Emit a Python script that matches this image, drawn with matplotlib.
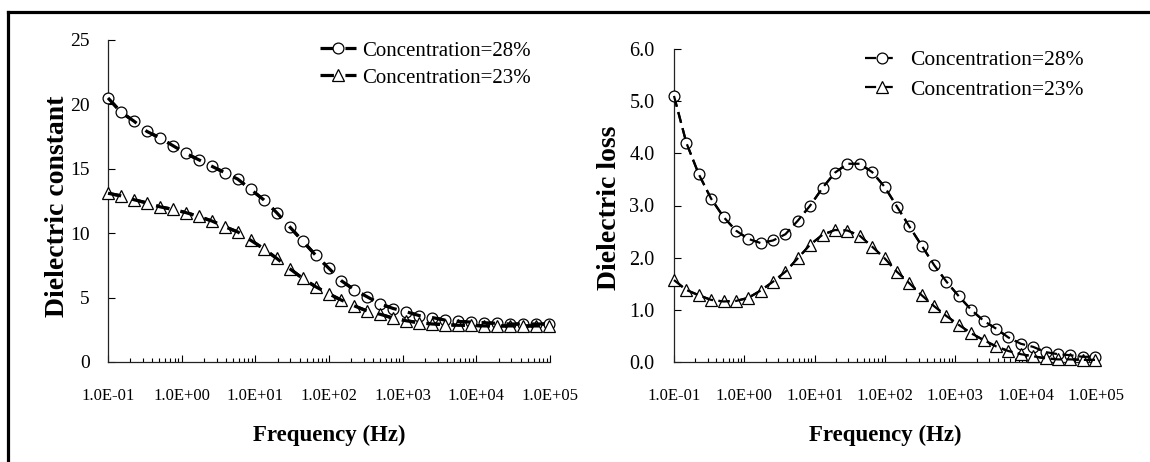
import matplotlib
matplotlib.use('Agg')
import matplotlib.pyplot as plt
from matplotlib.lines import Line2D
from matplotlib.ticker import FixedLocator, LogLocator, NullFormatter

# ---------------- data ----------------
freq = [0.1, 0.15, 0.225, 0.3375, 0.506, 0.759, 1.139, 1.709, 2.563, 3.844,
        5.767, 8.650, 12.97, 19.46, 29.19, 43.79, 65.68, 98.5, 147.8, 221.7,
        332.5, 498.8, 748.2, 1122, 1683, 2525, 3788, 5682, 8523, 12784,
        19176, 28765, 43147, 64720, 97081]

const_28 = [20.5, 19.4, 18.7, 17.9, 17.4, 16.8, 16.2, 15.7, 15.2, 14.7,
            14.2, 13.4, 12.6, 11.6, 10.5, 9.4, 8.3, 7.3, 6.3, 5.6,
            5.05, 4.5, 4.15, 3.9, 3.6, 3.45, 3.25, 3.15, 3.1, 3.05,
            3.0, 2.95, 2.95, 2.95, 2.95]
const_23 = [13.1, 12.9, 12.6, 12.35, 12.05, 11.85, 11.6, 11.3, 10.95, 10.5,
            10.1, 9.45, 8.8, 8.05, 7.25, 6.5, 5.85, 5.3, 4.8, 4.35,
            3.95, 3.7, 3.4, 3.2, 3.05, 2.95, 2.9, 2.85, 2.85, 2.8,
            2.8, 2.8, 2.8, 2.8, 2.8]

loss_28 = [5.1, 4.2, 3.6, 3.13, 2.78, 2.52, 2.36, 2.28, 2.33, 2.45,
           2.71, 3.0, 3.34, 3.63, 3.8, 3.8, 3.64, 3.36, 2.98, 2.6,
           2.23, 1.86, 1.54, 1.26, 1.0, 0.79, 0.64, 0.47, 0.35, 0.29,
           0.19, 0.15, 0.13, 0.1, 0.1]
loss_23 = [1.57, 1.38, 1.28, 1.19, 1.16, 1.17, 1.23, 1.37, 1.54, 1.73,
           1.99, 2.25, 2.44, 2.53, 2.52, 2.42, 2.21, 1.99, 1.73, 1.51,
           1.28, 1.07, 0.88, 0.71, 0.55, 0.42, 0.30, 0.21, 0.15, 0.11,
           0.07, 0.05, 0.05, 0.04, 0.04]

series_labels = ['Concentration=28%', 'Concentration=23%']
xtick_vals = [0.1, 1, 10, 100, 1000, 1e4, 1e5]
xtick_labels = ['1.0E-01', '1.0E+00', '1.0E+01', '1.0E+02', '1.0E+03', '1.0E+04', '1.0E+05']
left_yticks = [0, 5, 10, 15, 20, 25]
left_yticklabels = ['0', '5', '10', '15', '20', '25']
right_yticks = [0, 1, 2, 3, 4, 5, 6]
right_yticklabels = ['0.0', '1.0', '2.0', '3.0', '4.0', '5.0', '6.0']

# ---------------- figure ----------------
plt.rcParams['font.family'] = ['Liberation Serif', 'DejaVu Serif']
W, H = 1150, 462
fig = plt.figure(figsize=(W / 100, H / 100), dpi=100)
fig.patch.set_facecolor('white')


def px_axes(x0, y0, x1, y1):
    return fig.add_axes([x0 / W, 1 - y1 / H, (x1 - x0) / W, (y1 - y0) / H])


axL = px_axes(108, 40, 550, 362)
axR = px_axes(674, 49, 1096, 362)


def style(ax, yticks, yticklabels, ymax, ypad, yfs):
    ax.set_xscale('log')
    ax.set_xlim(0.1, 1e5)
    ax.set_ylim(0, ymax)
    for s in ['top', 'right']:
        ax.spines[s].set_visible(False)
    for s in ['left', 'bottom']:
        ax.spines[s].set_linewidth(0.9)
        ax.spines[s].set_color('#222222')
    ax.xaxis.set_major_locator(FixedLocator(xtick_vals))
    ax.set_xticklabels(xtick_labels)
    ax.xaxis.set_minor_locator(LogLocator(base=10, subs=range(2, 10), numticks=20))
    ax.xaxis.set_minor_formatter(NullFormatter())
    ax.set_yticks(yticks)
    ax.set_yticklabels(yticklabels)
    ax.tick_params(axis='x', which='major', direction='in', length=5, width=0.8,
                   pad=19, labelsize=12)
    ax.tick_params(axis='x', which='minor', direction='in', length=3, width=0.8)
    ax.tick_params(axis='y', which='major', direction='in', length=5, width=0.8,
                   pad=ypad, labelsize=yfs)
    ax.tick_params(axis='y', which='minor', left=False)


style(axL, left_yticks, left_yticklabels, 25, 13, 14)
style(axR, right_yticks, right_yticklabels, 6, 14, 14.5)


def draw(ax, y, marker, lw, dashes, ms):
    h, = ax.plot(freq, y, color='black', lw=lw, dashes=dashes, marker=marker,
                 ms=ms, mfc='white', mec='black', mew=0.9, clip_on=False, zorder=3)
    ax.plot(freq, y, color='black', lw=lw, dashes=dashes, clip_on=False, zorder=4)
    return h


hL1 = draw(axL, const_28, 'o', 2.3, (4.2, 3.6), 7.8)
hL2 = draw(axL, const_23, '^', 2.3, (4.2, 3.6), 8)
hR1 = draw(axR, loss_28, 'o', 1.6, (5, 2.5), 7.8)
hR2 = draw(axR, loss_23, '^', 1.6, (5, 2.5), 8.3)

fig.legend([hL1, hL2], series_labels, loc='upper left',
           bbox_to_anchor=(320 / W, 1 - 41 / H), bbox_transform=fig.transFigure,
           frameon=False, borderpad=0, borderaxespad=0, fontsize=15,
           handlelength=1.75, handletextpad=0.25, labelspacing=0.36)
fig.legend([hR1, hR2], series_labels, loc='upper left',
           bbox_to_anchor=(865 / W, 1 - 50 / H), bbox_transform=fig.transFigure,
           frameon=False, borderpad=0, borderaxespad=0, fontsize=15.5,
           handlelength=1.55, handletextpad=0.55, labelspacing=0.44)

# axis titles
fig.text(58 / W, 1 - 206 / H, 'Dielectric constant', rotation=90, ha='center',
         va='center', fontsize=20, fontweight='bold')
fig.text(610 / W, 1 - 208 / H, 'Dielectric loss', rotation=90, ha='center',
         va='center', fontsize=20, fontweight='bold')
fig.text(329 / W, 1 - 435 / H, 'Frequency (Hz)', ha='center', va='center',
         fontsize=16.5, fontweight='bold')
fig.text(885 / W, 1 - 435 / H, 'Frequency (Hz)', ha='center', va='center',
         fontsize=16.5, fontweight='bold')

# outer frame lines (left and top)
fig.add_artist(Line2D([8 / W, 8 / W], [0, 1 - 12 / H], color='black', lw=2.3,
                      transform=fig.transFigure, solid_capstyle='projecting'))
fig.add_artist(Line2D([8 / W, 1], [1 - 12 / H, 1 - 12 / H], color='black', lw=2.3,
                      transform=fig.transFigure, solid_capstyle='projecting'))

fig.savefig('out.png', dpi=100, facecolor='white')
